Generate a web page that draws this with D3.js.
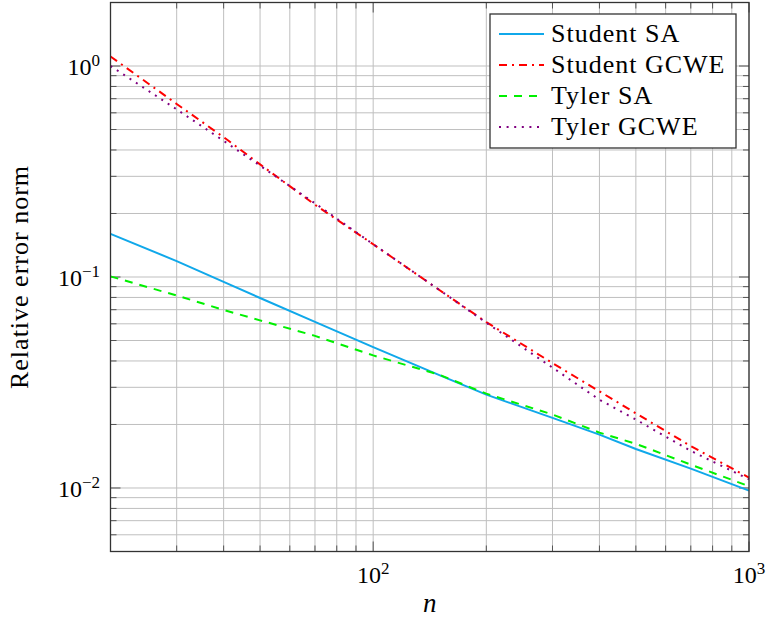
<!DOCTYPE html>
<html>
<head>
<meta charset="utf-8">
<script src="https://d3js.org/d3.v7.min.js"></script>
</head>
<body style="margin:0">
<svg id="chart" width="766" height="621"></svg>
<script>
// sample sizes n
var nValues = [20, 30, 40, 50, 70, 100, 150, 200, 300, 400, 500, 700, 1000];

// relative error norm for each estimator
var studentSA   = [0.160, 0.119, 0.0949, 0.0795, 0.0613, 0.0465, 0.0343, 0.0277, 0.0215, 0.0179, 0.0153, 0.01235, 0.00971];
var studentGCWE = [1.11, 0.661, 0.460, 0.342, 0.220, 0.143, 0.0868, 0.0611, 0.0391, 0.0287, 0.0226, 0.0158, 0.0112];
var tylerSA     = [0.1007, 0.0817, 0.0698, 0.0623, 0.0526, 0.0425, 0.0344, 0.0280, 0.0223, 0.0183, 0.0162, 0.0129, 0.0102];
var tylerGCWE   = [1.00, 0.623, 0.442, 0.337, 0.2235, 0.143, 0.0868, 0.0607, 0.0372, 0.0262, 0.0211, 0.0150, 0.0110];

var seriesNames = ["Student SA", "Student GCWE", "Tyler SA", "Tyler GCWE"];
var seriesData = [studentSA, studentGCWE, tylerSA, tylerGCWE];

var xTickLabels = [{v: 100, e: "2"}, {v: 1000, e: "3"}];
var yTickLabels = [{v: 1, e: "0"}, {v: 0.1, e: "\u22121"}, {v: 0.01, e: "\u22122"}];

// styles
var colors = ["#10a8ea", "#ff0000", "#00f000", "#800080"];
var dashes = [null, "8,5,2,5", "8,7", "2,5.6"];
var font = "Liberation Serif";

var W = 766, H = 621;
var margin = {top: 2.5, right: 17, bottom: 69.5, left: 110.5};
var width = W - margin.left - margin.right;
var height = H - margin.top - margin.bottom;

var svg = d3.select("#chart");

var g = svg.append("g")
  .attr("transform", "translate(" + margin.left + "," + margin.top + ")");

var x = d3.scaleLog().domain([20, 1000]).range([0, width]);
var y = d3.scaleLog().domain([0.005, 2]).range([height, 0]);

// helper: text with the serif font forced on the element itself
function addText(parent, size) {
  return parent.append("text")
    .attr("font-family", font)
    .attr("font-size", size)
    .style("font-family", font, "important")
    .attr("fill", "#000");
}

// grid
var xGrid = x.ticks();
var yGrid = y.ticks();

g.selectAll(".xg").data(xGrid).enter().append("line")
  .attr("x1", function(d) { return x(d); }).attr("x2", function(d) { return x(d); })
  .attr("y1", 0).attr("y2", height)
  .attr("stroke", "#bfbfbf").attr("stroke-width", 1);

g.selectAll(".yg").data(yGrid).enter().append("line")
  .attr("y1", function(d) { return y(d); }).attr("y2", function(d) { return y(d); })
  .attr("x1", 0).attr("x2", width)
  .attr("stroke", "#bfbfbf").attr("stroke-width", 1);

// tick marks, inward on all sides
function isMajor(d) { return Math.abs(Math.log10(d) - Math.round(Math.log10(d))) < 1e-9; }
var tickColor = "#555";
xGrid.forEach(function(d) {
  var len = isMajor(d) ? 10 : 6;
  g.append("line").attr("x1", x(d)).attr("x2", x(d)).attr("y1", height).attr("y2", height - len)
    .attr("stroke", tickColor).attr("stroke-width", 1);
  g.append("line").attr("x1", x(d)).attr("x2", x(d)).attr("y1", 0).attr("y2", len)
    .attr("stroke", tickColor).attr("stroke-width", 1);
});
yGrid.forEach(function(d) {
  var len = isMajor(d) ? 10 : 6;
  g.append("line").attr("y1", y(d)).attr("y2", y(d)).attr("x1", 0).attr("x2", len)
    .attr("stroke", tickColor).attr("stroke-width", 1);
  g.append("line").attr("y1", y(d)).attr("y2", y(d)).attr("x1", width).attr("x2", width - len)
    .attr("stroke", tickColor).attr("stroke-width", 1);
});

// series lines
var line = d3.line()
  .x(function(d) { return x(d[0]); })
  .y(function(d) { return y(d[1]); });

seriesData.forEach(function(vals, i) {
  var pts = nValues.map(function(n, j) { return [n, vals[j]]; });
  g.append("path")
    .datum(pts)
    .attr("d", line)
    .attr("fill", "none")
    .attr("stroke", colors[i])
    .attr("stroke-width", 2)
    .attr("stroke-dasharray", dashes[i]);
});

// frame
g.append("rect")
  .attr("x", 0).attr("y", 0).attr("width", width).attr("height", height)
  .attr("fill", "none").attr("stroke", "#333").attr("stroke-width", 1.3);

// tick labels
var fs = 24;
xTickLabels.forEach(function(t) {
  var txt = addText(svg, fs)
    .attr("x", margin.left + x(t.v))
    .attr("y", margin.top + height + 31)
    .attr("text-anchor", "middle");
  txt.append("tspan").text("10");
  txt.append("tspan").attr("dy", -9).attr("font-size", 17).text(t.e);
});

yTickLabels.forEach(function(t) {
  var txt = addText(svg, fs)
    .attr("x", 100)
    .attr("y", margin.top + y(t.v) + 9)
    .attr("text-anchor", "end");
  txt.append("tspan").text("10");
  txt.append("tspan").attr("dy", -9).attr("font-size", 17).text(t.e);
});

// axis labels
addText(svg, 27)
  .attr("x", margin.left + width / 2)
  .attr("y", 612)
  .attr("text-anchor", "middle")
  .attr("font-style", "italic")
  .text("n");

addText(svg, 26)
  .attr("transform", "translate(28," + (margin.top + height / 2) + ") rotate(-90)")
  .attr("text-anchor", "middle")
  .attr("letter-spacing", 1)
  .text("Relative error norm");

// legend
var lg = svg.append("g").attr("transform", "translate(490,14)");
lg.append("rect")
  .attr("x", 0).attr("y", 0).attr("width", 246).attr("height", 134)
  .attr("fill", "#fff").attr("stroke", "#333").attr("stroke-width", 1.3);

seriesNames.forEach(function(name, i) {
  var cy = 20 + i * 31;
  lg.append("line")
    .attr("x1", 9).attr("x2", 54).attr("y1", cy).attr("y2", cy)
    .attr("stroke", colors[i]).attr("stroke-width", 2)
    .attr("stroke-dasharray", dashes[i]);
  addText(lg, 26)
    .attr("x", 61).attr("y", cy + 8)
    .attr("letter-spacing", 1)
    .text(name);
});
</script>
</body>
</html>
